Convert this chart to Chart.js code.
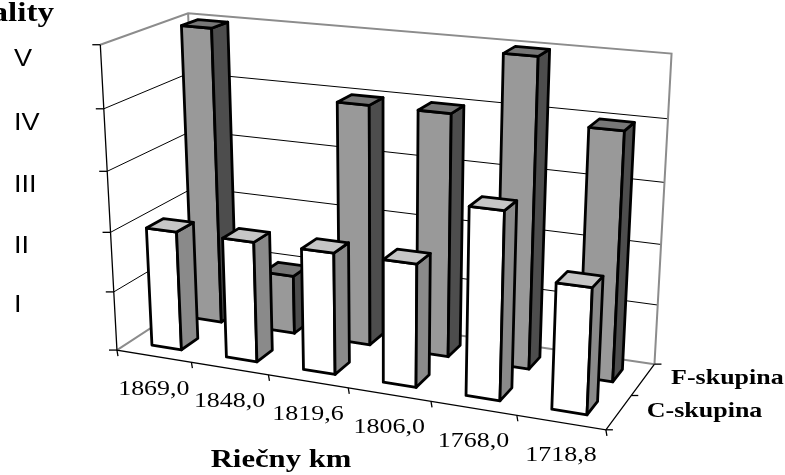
<!DOCTYPE html>
<html>
<head>
<meta charset="utf-8">
<script src="https://cdn.jsdelivr.net/npm/chart.js@4/dist/chart.umd.min.js"></script>
<style>
html, body { margin: 0; padding: 0; background: #fff; }
#wrap { width: 785px; height: 475px; }
</style>
</head>
<body>
<div id="wrap"><canvas id="graf3d" width="785" height="475"></canvas></div>
<script>
// data
const kategorie = ["1869,0", "1848,0", "1819,6", "1806,0", "1768,0", "1718,8"];
const cSkupina = [2, 2, 2, 2, 3, 2];
const fSkupina = [5, 1, 4, 4, 5, 4];
const triedy = ["I", "II", "III", "IV", "V"];
const serie = ["C-skupina", "F-skupina"];

// box corners / ticks of the 3D plot (u = along categories, v = value/5, w = depth) -> screen
const kotvy = [
    [0, 0, 0, 117, 350], [0, 1, 0, 100, 44], [0, 1, 1, 187, 14],
    [1, 1, 1, 672, 54], [1, 0, 1, 656, 363], [1, 0, 0, 605, 428],
    [0, 0.2, 0, 114, 292], [0, 0.4, 0, 112, 232], [0, 0.6, 0, 108, 171], [0, 0.8, 0, 104, 108],
    [1/6, 0, 0, 191, 362], [2/6, 0, 0, 268, 375], [3/6, 0, 0, 347, 389],
    [4/6, 0, 0, 431, 403], [5/6, 0, 0, 517, 417],
    [1, 0, 0.5, 632, 394],
    [1, 0.2, 1, 657, 305], [1, 0.6, 1, 663, 183], [1, 0.8, 1, 669, 119]
];

const SX = 1.18; // picture is stretched horizontally

function fitProjection(pts){
    const A = [], b = [];
    pts.forEach(function(p){
        const X = p[0], Y = p[1], Z = p[2], x = p[3] / 100, y = p[4] / 100;
        A.push([X, Y, Z, 1, 0, 0, 0, 0, -x * X, -x * Y, -x * Z]); b.push(x);
        A.push([0, 0, 0, 0, X, Y, Z, 1, -y * X, -y * Y, -y * Z]); b.push(y);
    });
    const n = 11, M = [];
    for (let i = 0; i < n; i++) {
        M.push(new Array(n + 1).fill(0));
        for (let j = 0; j < n; j++) {
            let s = 0;
            for (let k = 0; k < A.length; k++) s += A[k][i] * A[k][j];
            M[i][j] = s;
        }
        let s = 0;
        for (let k = 0; k < A.length; k++) s += A[k][i] * b[k];
        M[i][n] = s;
    }
    for (let c = 0; c < n; c++) {
        let p = c;
        for (let r = c + 1; r < n; r++) if (Math.abs(M[r][c]) > Math.abs(M[p][c])) p = r;
        const tmp = M[c]; M[c] = M[p]; M[p] = tmp;
        for (let r = 0; r < n; r++) {
            if (r === c) continue;
            const f = M[r][c] / M[c][c];
            for (let k = c; k <= n; k++) M[r][k] -= f * M[c][k];
        }
    }
    return M.map(function(row, i){ return row[n] / row[i]; });
}

const P = fitProjection(kotvy);

function proj(u, v, w){
    const d = P[8] * u + P[9] * v + P[10] * w + 1;
    return [
        100 * (P[0] * u + P[1] * v + P[2] * w + P[3]) / d,
        100 * (P[4] * u + P[5] * v + P[6] * w + P[7]) / d
    ];
}

function line(ctx, pts, color, width){
    ctx.beginPath();
    pts.forEach(function(p, i){
        const q = proj(p[0], p[1], p[2]);
        if (i === 0) ctx.moveTo(q[0], q[1]); else ctx.lineTo(q[0], q[1]);
    });
    ctx.strokeStyle = color;
    ctx.lineWidth = width;
    ctx.stroke();
}

function face(ctx, pts, fill){
    ctx.beginPath();
    pts.forEach(function(p, i){
        const q = proj(p[0], p[1], p[2]);
        if (i === 0) ctx.moveTo(q[0], q[1]); else ctx.lineTo(q[0], q[1]);
    });
    ctx.closePath();
    ctx.fillStyle = fill;
    ctx.fill();
    ctx.strokeStyle = "#000";
    ctx.lineWidth = 2.8;
    ctx.lineJoin = "round";
    ctx.stroke();
}

function text(ctx, txt, x, y, font, align, baseline){
    ctx.save();
    ctx.font = font;
    ctx.textBaseline = baseline || "middle";
    ctx.textAlign = "left";
    const w = ctx.measureText(txt).width * SX;
    let left = x;
    if (align === "center") left = x - w / 2;
    if (align === "right") left = x - w;
    ctx.translate(left, y);
    ctx.scale(SX, 1);
    ctx.fillStyle = "#000";
    ctx.fillText(txt, 0, 0);
    ctx.restore();
}

const kresba3d = {
    id: "kresba3d",
    afterDraw: function(chart){
        const ctx = chart.ctx;
        const a = chart.chartArea;
        const ys = chart.scales.y;
        const toV = function(px){ return (a.bottom - px) / a.height; };
        const toU = function(px){ return (px - a.left) / a.width; };

        ctx.save();
        ctx.fillStyle = "#fff";
        ctx.fillRect(0, 0, chart.width, chart.height);

        // gridlines on the walls
        ys.ticks.forEach(function(t){
            const v = toV(ys.getPixelForValue(t.value));
            if (v <= 0 || v >= 1) return;
            line(ctx, [[0, v, 0], [0, v, 1], [1, v, 1]], "#000", 1);
        });
        // wall edges
        line(ctx, [[0, 1, 0], [0, 1, 1], [1, 1, 1], [1, 0, 1]], "#8c8c8c", 2);
        line(ctx, [[0, 0, 0], [0, 0, 1], [1, 0, 1]], "#8c8c8c", 2);
        line(ctx, [[0, 0, 1], [0, 1, 1]], "#8c8c8c", 2);

        // axes
        line(ctx, [[0, 1, 0], [0, 0, 0], [1, 0, 0], [1, 0, 1]], "#000", 1.3);
        ctx.strokeStyle = "#000";
        ctx.lineWidth = 1.3;
        ys.ticks.forEach(function(t){
            const q = proj(0, toV(ys.getPixelForValue(t.value)), 0);
            ctx.beginPath(); ctx.moveTo(q[0] - 8, q[1]); ctx.lineTo(q[0], q[1]); ctx.stroke();
        });
        for (let j = 0; j <= kategorie.length; j++) {
            const q = proj(j / kategorie.length, 0, 0);
            ctx.beginPath(); ctx.moveTo(q[0], q[1]); ctx.lineTo(q[0] + 1, q[1] + 6); ctx.stroke();
        }
        [0, 0.5, 1].forEach(function(w){
            const q = proj(1, 0, w);
            ctx.beginPath(); ctx.moveTo(q[0], q[1]); ctx.lineTo(q[0] + 7, q[1]); ctx.stroke();
        });

        // bars: back series first, left to right
        const farby = [
            { front: "#ffffff", side: "#8a8a8a", top: "#c6c6c6" },
            { front: "#999999", side: "#4d4d4d", top: "#777777" }
        ];
        const nSerii = chart.data.datasets.length;
        for (let d = nSerii - 1; d >= 0; d--) {
            const meta = chart.getDatasetMeta(d);
            const wc = (d + 0.5) / nSerii;
            const hw = 0.4 / nSerii / 2;
            const w0 = wc - hw, w1 = wc + hw;
            const f = farby[d];
            meta.data.forEach(function(el){
                const u0 = toU(el.x - el.width / 2), u1 = toU(el.x + el.width / 2);
                const v0 = toV(el.base), v1 = toV(el.y);
                face(ctx, [[u0, v0, w0], [u1, v0, w0], [u1, v1, w0], [u0, v1, w0]], f.front);
                face(ctx, [[u1, v0, w0], [u1, v0, w1], [u1, v1, w1], [u1, v1, w0]], f.side);
                face(ctx, [[u0, v1, w0], [u1, v1, w0], [u1, v1, w1], [u0, v1, w1]], f.top);
            });
        }

        // category labels
        chart.data.labels.forEach(function(lab, i){
            const q = proj((i + 0.5) / chart.data.labels.length, 0, 0);
            text(ctx, lab, q[0], q[1] + 33, "22px 'Liberation Serif'", "center");
        });
        // value class labels
        triedy.forEach(function(t, k){
            const q = proj(0, toV(ys.getPixelForValue(k + 0.8)), 0);
            text(ctx, t, 14, q[1] + 2, "23px 'Liberation Sans'", "left");
        });
        // series labels on depth axis
        chart.data.datasets.forEach(function(ds, d){
            const q = proj(1, 0, (d + 0.5) / nSerii);
            text(ctx, ds.label, q[0] + 28, q[1] - 1, "bold 22px 'Liberation Serif'", "left");
        });
        text(ctx, "Riečny km", 281, 467, "bold 26px 'Liberation Serif'", "center", "alphabetic");
        text(ctx, "Kvality", 54, 21, "bold 28px 'Liberation Serif'", "right", "alphabetic");
        ctx.restore();
    }
};

new Chart(document.getElementById("graf3d"), {
    type: "bar",
    plugins: [kresba3d],
    data: {
        labels: kategorie,
        datasets: [
            { label: serie[0], data: cSkupina, backgroundColor: "rgba(0,0,0,0)", borderWidth: 0 },
            { label: serie[1], data: fSkupina, backgroundColor: "rgba(0,0,0,0)", borderWidth: 0 }
        ]
    },
    options: {
        responsive: false,
        animation: false,
        layout: { padding: 0 },
        grouped: false,
        barPercentage: 0.4,
        categoryPercentage: 1.0,
        scales: {
            x: { type: "category", display: false, offset: true },
            y: { min: 0, max: 5, display: false, ticks: { stepSize: 1 } }
        },
        plugins: {
            legend: { display: false },
            tooltip: { enabled: false }
        }
    }
});
</script>
</body>
</html>
